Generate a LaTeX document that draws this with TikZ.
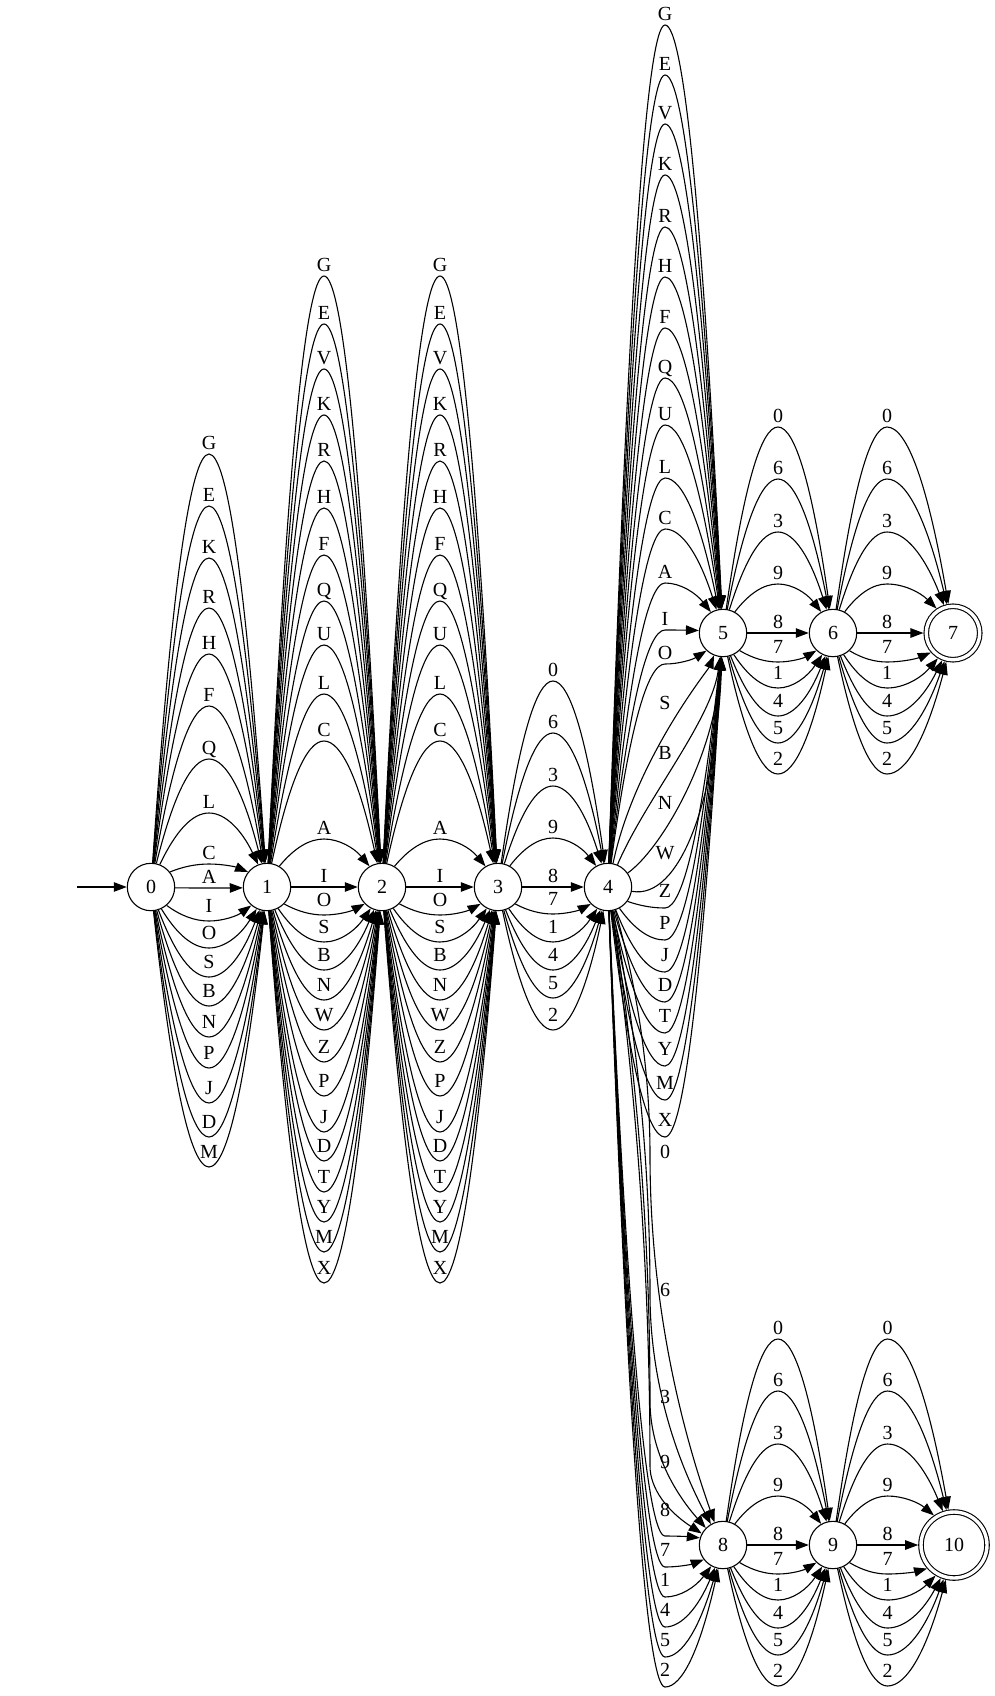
\documentclass[tikz,border=0pt]{standalone}
\usepackage{fontspec}
\setmainfont{Liberation Serif}
\usepackage{tikz}
\usetikzlibrary{arrows.meta,calc}

% edge through a via point, flat at the via point
\newcommand{\edgevia}[5]{%
  \coordinate (m) at (#3);
  \coordinate (h1) at ($(#1)!.5!(m)$);
  \coordinate (h2) at ($(m)!.5!(#2)$);
  \path (#1) -- (h1 |- m) coordinate[pos=0] (ea);
  \path (h2 |- m) -- (#2) coordinate[pos=1] (eb);
  \coordinate (h1) at ($(ea)!.5!(m)$);
  \coordinate (h2) at ($(m)!.5!(eb)$);
  \coordinate (q1) at (h1 |- m);
  \coordinate (q2) at (h2 |- m);
  \draw[arrow] (ea) .. controls ($(ea)!2/3!(q1)$) and ($(m)!2/3!(q1)$) .. (m)
    .. controls ($(m)!2/3!(q2)$) and ($(eb)!2/3!(q2)$) .. (eb);
  \node[lbl] at (#4) {#5};
}
% same, but upright at the via point
\newcommand{\edgeviav}[5]{%
  \coordinate (m) at (#3);
  \coordinate (h1) at ($(#1)!.5!(m)$);
  \coordinate (h2) at ($(m)!.5!(#2)$);
  \path (#1) -- (m |- h1) coordinate[pos=0] (ea);
  \path (m |- h2) -- (#2) coordinate[pos=1] (eb);
  \coordinate (h1) at ($(ea)!.5!(m)$);
  \coordinate (h2) at ($(m)!.5!(eb)$);
  \coordinate (q1) at (m |- h1);
  \coordinate (q2) at (m |- h2);
  \draw[arrow] (ea) .. controls ($(ea)!2/3!(q1)$) and ($(m)!2/3!(q1)$) .. (m)
    .. controls ($(m)!2/3!(q2)$) and ($(eb)!2/3!(q2)$) .. (eb);
  \node[lbl] at (#4) {#5};
}

\begin{document}
\begin{tikzpicture}[x=1pt, y=-1pt, line width=1.1pt,
  state/.style={circle, draw, minimum size=47.4pt, inner sep=0pt, font=\fontsize{20}{23}\selectfont, text height=13.2pt, text depth=0pt},
  accept/.style={state, double, double distance=3.4pt, outer sep=2.8pt},
  lbl/.style={inner sep=0pt, font=\fontsize{20}{23}\selectfont, text height=13.2pt, text depth=0pt},
  arrow/.style={->, >={Triangle[length=13pt, width=9.5pt]}}
]
  \useasboundingbox (0,0) rectangle (995,1696);
  \node[state] (n0) at (151,887) {0};
  \node[state] (n1) at (267,887) {1};
  \node[state] (n2) at (382,887) {2};
  \node[state] (n3) at (498,887) {3};
  \node[state] (n4) at (608,887) {4};
  \node[state] (n5) at (723,633) {5};
  \node[state] (n6) at (833,633) {6};
  \node[accept, minimum size=53.5pt] (n7) at (953,633) {7};
  \node[state] (n8) at (723,1545) {8};
  \node[state] (n9) at (833,1545) {9};
  \node[accept, minimum size=66pt] (n10) at (954,1545) {10};
  \coordinate (start) at (77,887);
  \draw[arrow] (start) -- (n0);

  \foreach \lab/\yy in {G/443,E/495,K/547,R/597,H/643,F/695,Q/748,L/802,C/853,A/877}
    {\edgevia{n0}{n1}{209,\yy+11}{209,\yy}{\lab}}
  \foreach \lab/\yy in {I/906,O/933,S/962,B/991,N/1022,P/1053,J/1088,D/1122,M/1152}
    {\edgevia{n0}{n1}{209,\yy+15}{209,\yy}{\lab}}

  \foreach \src/\dst/\xx in {n1/n2/324,n2/n3/440} {
    \foreach \lab/\yy in {G/265,E/313,V/358,K/404,R/450,H/497,F/544,Q/590,U/634,L/683,C/730,A/828,I/876}
      {\edgevia{\src}{\dst}{\xx,\yy+11}{\xx,\yy}{\lab}}
    \foreach \lab/\yy in {O/900,S/927,B/955,N/985,W/1015,Z/1047,P/1081,J/1117,D/1146,T/1177,Y/1207,M/1237,X/1268}
      {\edgevia{\src}{\dst}{\xx,\yy+15}{\xx,\yy}{\lab}}
  }

  \foreach \lab/\yy in {0/670,6/722,3/775,9/827,8/876}
    {\edgevia{n3}{n4}{553,\yy+11}{553,\yy}{\lab}}
  \foreach \lab/\yy in {7/899,1/927,4/955,5/983,2/1015}
    {\edgevia{n3}{n4}{553,\yy+15}{553,\yy}{\lab}}

  \foreach \lab/\yy in {G/14,E/64,V/113,K/164,R/216,H/266,F/317,Q/367,U/414,L/467,C/518,A/572,I/619,O/653}
    {\edgevia{n4}{n5}{665,\yy+11}{665,\yy}{\lab}}
  \foreach \lab/\yy/\ax/\ay/\bx/\by in {S/703/635/760/708/670,B/753/645/800/712/720,N/803/660/850/714/760,W/853/680/900/716/800} {
    \draw[arrow] (n4) .. controls (\ax,\ay) and (\bx,\by) .. (n5);
    \node[lbl] at (665,\yy) {\lab};
  }
  \foreach \lab/\yy in {Z/891,P/923,J/955,D/985,T/1016,Y/1049,M/1083,X/1120}
    {\edgevia{n4}{n5}{665,\yy+17}{665,\yy}{\lab}}

  \foreach \lab/\yy in {0/1152,6/1290,3/1397,9/1462}
    {\edgeviav{n4}{n8}{650,\yy+4}{665,\yy}{\lab}}
  \edgevia{n4}{n8}{665,1536}{665,1510}{8}
  \foreach \lab/\yy in {7/1550,1/1580,4/1610,5/1640,2/1670}
    {\edgevia{n4}{n8}{665,\yy+17}{665,\yy}{\lab}}

  \foreach \src/\dst/\sx in {n5/n6/0,n6/n7/-6,n8/n9/0,n9/n10/-6} {
    \foreach \lab/\dy in {0/-217,6/-165,3/-112,9/-60,8/-11}
      {\edgevia{\src}{\dst}{$(\src)!.5!(\dst)+(\sx,\dy+11)$}{$(\src)!.5!(\dst)+(\sx,\dy)$}{\lab}}
    \foreach \lab/\dy in {7/14,1/40,4/68,5/95,2/126}
      {\edgevia{\src}{\dst}{$(\src)!.5!(\dst)+(\sx,\dy+15)$}{$(\src)!.5!(\dst)+(\sx,\dy)$}{\lab}}
  }
\end{tikzpicture}
\end{document}
